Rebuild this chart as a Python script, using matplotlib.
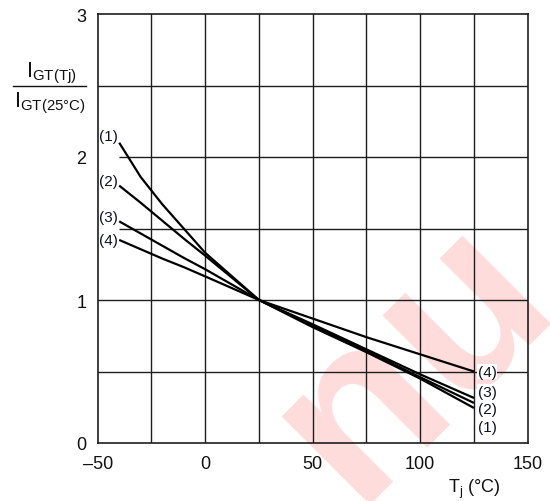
import matplotlib

matplotlib.use("Agg")
import matplotlib.pyplot as plt
from matplotlib.lines import Line2D

plt.rcParams["font.family"] = ["Liberation Sans", "DejaVu Sans"]
plt.rcParams["mathtext.fontset"] = "custom"
plt.rcParams["mathtext.rm"] = "Liberation Sans"
plt.rcParams["mathtext.it"] = "Liberation Sans"

# junction temperature (deg C) and normalised gate trigger current per curve
tj = [-40, -30, -20, -10, 0, 25, 50, 75, 100, 125]
curve_1 = [2.10, 1.86, 1.67, 1.50, 1.33, 1.00, 0.81, 0.635, 0.45, 0.245]
curve_2 = [1.80, 1.68, 1.555, 1.43, 1.31, 1.00, 0.82, 0.645, 0.46, 0.28]
curve_3 = [1.55, 1.465, 1.38, 1.295, 1.215, 1.00, 0.83, 0.655, 0.48, 0.315]
curve_4 = [1.42, 1.355, 1.29, 1.23, 1.165, 1.00, 0.87, 0.74, 0.62, 0.50]
curve_names = ["(1)", "(2)", "(3)", "(4)"]
left_label_y = [2.15, 1.83, 1.58, 1.42]
right_label_y = [0.115, 0.24, 0.355, 0.50]

x_ticks = [-50, 0, 50, 100, 150]
x_ticklabels = ["\u201350", "0", "50", "100", "150"]
y_ticks = [0, 1, 2, 3]

W, H = 550, 502
fig = plt.figure(figsize=(W / 100, H / 100), dpi=100)

# watermark behind the chart
fig.text(355 / W, 1 - 505 / H, "nu", fontsize=170, fontweight="bold", color="#ffdcdc",
         rotation=45, rotation_mode="anchor", ha="left", va="baseline", zorder=-5)

ax = fig.add_axes([97.7 / W, (H - 444) / H, 430 / W, 429 / H])
ax.set_facecolor("none")
ax.set_xlim(-50, 150)
ax.set_ylim(0, 3)

grid_kw = dict(color="#1e1e1e", linewidth=1.0, zorder=1)
for gx in [-25, 0, 25, 50, 75, 100, 125]:
    ax.axvline(gx, **grid_kw)
for gy in [0.5, 1.0, 2.5]:
    ax.axhline(gy, **grid_kw)
for gy in [1.5, 2.0]:
    ax.hlines(gy, -40, 150, **grid_kw)

for ys in [curve_1, curve_2, curve_3, curve_4]:
    ax.plot(tj, ys, color="black", linewidth=1.6, zorder=3, solid_capstyle="butt")

for name, ly in zip(curve_names, left_label_y):
    ax.text(-40.6, ly, name, ha="right", va="center", fontsize=11, color="#10102a", zorder=4)
for name, ry in zip(curve_names, right_label_y):
    ax.text(126.8, ry, name, ha="left", va="center", fontsize=11, color="#10102a", zorder=4,
            bbox=dict(facecolor="white", edgecolor="none", pad=0.5))

for s in ax.spines.values():
    s.set_linewidth(1.2)
    s.set_color("#1e1e1e")
    s.set_zorder(5)

ax.set_xticks(x_ticks)
ax.set_xticklabels(x_ticklabels)
ax.set_yticks(y_ticks)
ax.tick_params(axis="both", length=0, labelsize=13, colors="#111111")
ax.tick_params(axis="x", pad=9)
ax.tick_params(axis="y", pad=8)

# x-axis title
fig.text(448 / W, 1 - 493 / H, r"$\mathregular{T_j}$ (°C)", fontsize=13,
         ha="left", va="baseline", color="#111111")

# y-axis title as a fraction
fig.text(51 / W, 1 - 77 / H, r"$\mathregular{I_{GT(Tj)}}$", fontsize=15.5,
         ha="center", va="baseline", color="#111111")
fig.text(50 / W, 1 - 107 / H, r"$\mathregular{I_{GT(25°C)}}$", fontsize=15.5,
         ha="center", va="baseline", color="#111111")
fig.add_artist(Line2D([13 / W, 86 / W], [1 - 87.3 / H, 1 - 87.3 / H],
                      transform=fig.transFigure, color="#111111", linewidth=1.0))

fig.savefig("out.png", dpi=100, facecolor="white")
